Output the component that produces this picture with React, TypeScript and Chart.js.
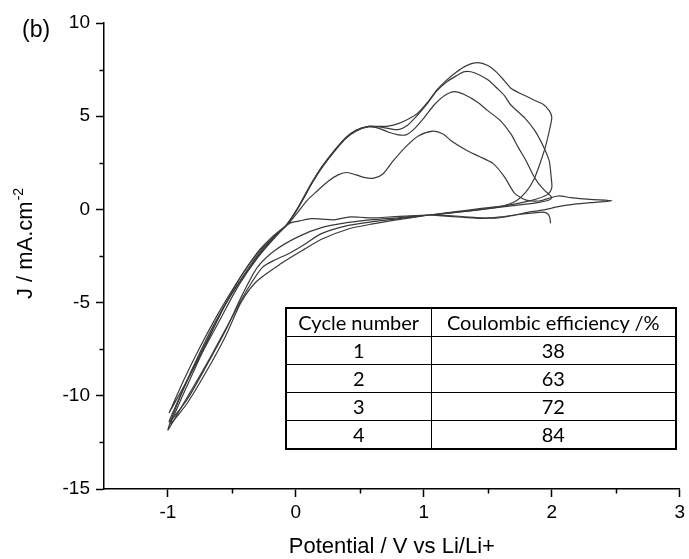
import React, { useEffect, useRef } from 'react';
import { Chart, registerables } from 'chart.js';

Chart.register(...registerables);

// ---- data ----
const cycleNumbers = [1, 2, 3, 4];
const coulombicEfficiency = [38, 63, 72, 84];
const tableHeaders = ['Cycle number', 'Coulombic efficiency /%'];

const xTitle = 'Potential / V vs Li/Li+';
const yTitleMain = 'J / mA.cm';
const yTitleSup = '-2';
const panelLabel = '(b)';

const xMajorTicks = [-1, 0, 1, 2, 3];
const xMinorTicks = [-0.5, 0.5, 1.5, 2.5];
const yMajorTicks = [10, 5, 0, -5, -10, -15];
const yMinorTicks = [7.5, 2.5, -2.5, -7.5, -12.5];

const cycle1Potential = [1.99, 1.985, 1.97, 1.93, 1.84, 1.71, 1.6, 1.45, 1.3, 1.15, 1.04, 0.85, 0.7, 0.6, 0.5, 0.41, 0.3, 0.2, 0.12, 0.03, -0.05, -0.15, -0.3, -0.45, -0.6, -0.75, -0.9, -0.99,
  -0.97, -0.88, -0.75, -0.6, -0.45, -0.3, -0.18, -0.07, 0.02, 0.09, 0.16, 0.25, 0.33, 0.4, 0.47, 0.54, 0.61, 0.68, 0.76, 0.86, 0.96, 1.07, 1.15, 1.21, 1.33, 1.43, 1.54, 1.63, 1.71, 1.8, 1.9, 1.97, 2.05, 2.15, 2.3, 2.47, 2.3, 2.15, 2.05, 2.0];
const cycle1Current = [-0.75, -0.45, -0.25, -0.15, -0.2, -0.3, -0.4, -0.48, -0.42, -0.35, -0.3, -0.36, -0.42, -0.46, -0.42, -0.41, -0.56, -0.52, -0.5, -0.62, -0.75, -1.4, -2.6, -4.1, -6.0, -7.9, -9.8, -10.9,
  -10.6, -9.2, -7.4, -5.5, -3.8, -2.3, -1.45, -0.85, -0.1, 0.5, 0.95, 1.5, 1.85, 1.98, 1.85, 1.7, 1.68, 1.9, 2.6, 3.37, 3.95, 4.2, 4.05, 3.7, 3.19, 2.85, 2.47, 1.75, 0.86, 0.5, 0.45, 0.58, 0.72, 0.63, 0.54, 0.47, 0.36, 0.26, 0.15, 0.07];

const cycle2Potential = [2.0, 1.94, 1.84, 1.7, 1.58, 1.45, 1.3, 1.15, 1.04, 0.8, 0.6, 0.41, 0.2, 0.02, -0.16, -0.3, -0.42, -0.55, -0.7, -0.85, -0.99,
  -0.93, -0.8, -0.65, -0.5, -0.37, -0.25, -0.15, -0.07, 0.0, 0.06, 0.125, 0.2, 0.3, 0.39, 0.47, 0.57, 0.65, 0.72, 0.8, 0.86, 0.93, 1.0, 1.08, 1.16, 1.24, 1.32, 1.42, 1.5, 1.6, 1.68, 1.74, 1.8, 1.85, 1.89, 1.94, 1.98, 2.0, 1.97, 1.9, 1.8, 1.6, 1.4, 1.2, 1.04];
const cycle2Current = [0.07, -0.03, -0.12, -0.32, -0.46, -0.46, -0.38, -0.32, -0.3, -0.45, -0.55, -0.7, -0.98, -1.46, -2.18, -3.1, -4.6, -6.5, -8.4, -10.2, -11.4,
  -10.4, -8.4, -6.3, -4.5, -3.2, -2.1, -1.35, -0.8, -0.12, 0.6, 1.4, 2.2, 3.1, 3.8, 4.2, 4.42, 4.35, 4.15, 4.0, 4.0, 4.35, 4.9, 5.6, 6.1, 6.32, 6.15, 5.75, 5.3, 4.75, 4.05, 3.3, 2.6, 1.9, 1.45, 1.05, 0.8, 0.62, 0.48, 0.38, 0.28, 0.12, -0.05, -0.2, -0.3];

const cycle3Potential = [1.04, 0.8, 0.6, 0.41, 0.2, 0.05, -0.05, -0.16, -0.26, -0.38, -0.5, -0.65, -0.8, -0.92, -1.0,
  -0.96, -0.85, -0.7, -0.55, -0.4, -0.27, -0.16, -0.07, 0.0, 0.06, 0.125, 0.2, 0.3, 0.39, 0.47, 0.57, 0.65, 0.72, 0.8, 0.87, 0.95, 1.03, 1.1, 1.18, 1.25, 1.32, 1.4, 1.5, 1.58, 1.63, 1.68, 1.79, 1.87, 1.94, 1.98, 1.995, 2.0, 1.97, 1.9, 1.8, 1.65, 1.45, 1.25, 1.04];
const cycle3Current = [-0.3, -0.5, -0.66, -0.86, -1.3, -1.95, -2.35, -2.7, -3.1, -4.3, -5.8, -7.7, -9.5, -10.9, -11.84,
  -11.0, -9.2, -7.1, -5.1, -3.45, -2.2, -1.4, -0.8, -0.1, 0.6, 1.4, 2.25, 3.15, 3.85, 4.25, 4.45, 4.42, 4.35, 4.28, 4.5, 5.05, 5.7, 6.35, 6.85, 7.15, 7.39, 7.32, 6.95, 6.45, 6.1, 5.6, 4.9, 4.2, 3.3, 2.6, 1.75, 1.15, 0.82, 0.6, 0.42, 0.22, 0.05, -0.12, -0.3];

const cycle4Potential = [1.04, 0.8, 0.6, 0.41, 0.2, 0.05, -0.11, -0.31, -0.43, -0.55, -0.7, -0.85, -0.98,
  -0.95, -0.84, -0.7, -0.56, -0.43, -0.3, -0.18, -0.07, 0.0, 0.06, 0.125, 0.2, 0.3, 0.39, 0.47, 0.57, 0.65, 0.72, 0.8, 0.88, 0.95, 1.03, 1.1, 1.18, 1.25, 1.33, 1.42, 1.5, 1.57, 1.63, 1.68, 1.76, 1.86, 1.93, 1.98, 2.0, 1.98, 1.95, 1.91, 1.86, 1.8, 1.72, 1.6, 1.45, 1.3, 1.15];
const cycle4Current = [-0.3, -0.55, -0.78, -1.05, -1.6, -2.2, -2.88, -3.88, -5.0, -6.8, -8.7, -10.4, -11.5,
  -11.0, -9.3, -7.2, -5.2, -3.6, -2.35, -1.45, -0.8, -0.08, 0.65, 1.45, 2.25, 3.15, 3.85, 4.25, 4.46, 4.45, 4.47, 4.6, 4.85, 5.15, 5.75, 6.4, 6.95, 7.35, 7.7, 7.87, 7.72, 7.35, 6.9, 6.5, 6.2, 5.87, 5.65, 5.3, 4.95, 4.2, 3.35, 2.5, 1.6, 0.95, 0.45, 0.15, 0.0, -0.12, -0.22];

const cyclePotentials = [cycle1Potential, cycle2Potential, cycle3Potential, cycle4Potential];
const cycleCurrents = [cycle1Current, cycle2Current, cycle3Current, cycle4Current];

const W = 689;
const H = 559;
const AXIS_FONT = 'Liberation Sans, Arial, sans-serif';

const decorPlugin = {
  id: 'decor',
  afterDraw(chart: any) {
    const { ctx, chartArea, scales } = chart;
    const x = scales.x;
    const y = scales.y;
    ctx.save();
    ctx.strokeStyle = '#000';
    ctx.lineWidth = 1.5;
    ctx.beginPath();
    for (const v of xMinorTicks) {
      const px = Math.round(x.getPixelForValue(v)) + 0.5;
      ctx.moveTo(px, chartArea.bottom);
      ctx.lineTo(px, chartArea.bottom + 4.5);
    }
    for (const v of yMinorTicks) {
      const py = Math.round(y.getPixelForValue(v)) + 0.5;
      ctx.moveTo(chartArea.left, py);
      ctx.lineTo(chartArea.left - 4.5, py);
    }
    ctx.stroke();

    ctx.fillStyle = '#000';
    // x title
    ctx.font = `22px ${AXIS_FONT}`;
    ctx.textAlign = 'center';
    ctx.textBaseline = 'alphabetic';
    ctx.fillText(xTitle, (chartArea.left + chartArea.right) / 2, 553);

    // y title with superscript
    ctx.save();
    ctx.translate(32, 244);
    ctx.rotate(-Math.PI / 2);
    ctx.font = `22px ${AXIS_FONT}`;
    const wMain = ctx.measureText(yTitleMain).width;
    ctx.font = `14px ${AXIS_FONT}`;
    const wSup = ctx.measureText(yTitleSup).width;
    const start = -(wMain + wSup) / 2;
    ctx.textAlign = 'left';
    ctx.font = `22px ${AXIS_FONT}`;
    ctx.fillText(yTitleMain, start, 0);
    ctx.font = `14px ${AXIS_FONT}`;
    ctx.fillText(yTitleSup, start + wMain + 1, -9);
    ctx.restore();

    // panel label
    ctx.font = `23px ${AXIS_FONT}`;
    ctx.textAlign = 'left';
    ctx.fillText(panelLabel, 22, 37);
    ctx.restore();
  },
};

export default function App() {
  const canvasRef = useRef<HTMLCanvasElement | null>(null);

  useEffect(() => {
    if (!canvasRef.current) return;
    const datasets = cyclePotentials.map((pots, i) => ({
      label: `Cycle ${cycleNumbers[i]}`,
      data: pots.map((v, j) => ({ x: v, y: cycleCurrents[i][j] })),
      showLine: true,
      borderColor: '#3a3a3a',
      borderWidth: 1.2,
      pointRadius: 0,
      tension: 0.25,
      fill: false,
    }));
    const chart = new Chart(canvasRef.current, {
      type: 'scatter',
      data: { datasets },
      options: {
        animation: false,
        responsive: false,
        devicePixelRatio: 1,
        layout: { padding: { left: 0, top: 23, right: 7, bottom: 0 } },
        plugins: { legend: { display: false }, tooltip: { enabled: false } },
        scales: {
          x: {
            type: 'linear',
            min: -1.5,
            max: 3,
            afterFit: (s: any) => { s.height = 70; },
            afterBuildTicks: (s: any) => {
              s.ticks = [-1.5, ...xMajorTicks].map((v) => ({ value: v }));
            },
            ticks: {
              autoSkip: false,
              maxRotation: 0,
              padding: 4,
              color: '#000',
              font: { family: AXIS_FONT, size: 19 },
              callback: (v: any) => (xMajorTicks.includes(Number(v)) ? String(v) : ''),
            },
            grid: {
              drawOnChartArea: false,
              tickLength: 8,
              tickWidth: 1.5,
              tickColor: (c: any) => (xMajorTicks.includes(c.tick?.value) ? '#000' : 'rgba(0,0,0,0)'),
            },
            border: { display: true, color: '#000', width: 1.5 },
          },
          y: {
            type: 'linear',
            min: -15,
            max: 10,
            afterFit: (s: any) => { s.width = 104; },
            afterBuildTicks: (s: any) => {
              s.ticks = yMajorTicks.slice().reverse().map((v) => ({ value: v }));
            },
            ticks: {
              autoSkip: false,
              padding: 6,
              color: '#000',
              font: { family: AXIS_FONT, size: 19 },
              callback: (v: any) => String(v),
            },
            grid: {
              drawOnChartArea: false,
              tickLength: 8,
              tickWidth: 1.5,
              tickColor: '#000',
            },
            border: { display: true, color: '#000', width: 1.5 },
          },
        },
      },
      plugins: [decorPlugin],
    });
    return () => chart.destroy();
  }, []);

  const cellBase: React.CSSProperties = {
    border: '1.5px solid #000',
    padding: 0,
    textAlign: 'center',
    height: 27,
    lineHeight: '27px',
  };

  return (
    <div style={{ position: 'fixed', left: 0, top: 0, width: W, height: H, background: '#fff' }}>
      <canvas ref={canvasRef} width={W} height={H} style={{ position: 'absolute', left: 0, top: 0, width: W, height: H }} />
      <div style={{ position: 'absolute', left: 285, top: 307, width: 390, height: 141 }}>
        <table
          style={{
            borderCollapse: 'collapse',
            width: '100%',
            tableLayout: 'fixed',
            fontFamily: 'Lato, "Open Sans", sans-serif',
            fontSize: 20,
            color: '#000',
            border: '2px solid #000',
          }}
        >
          <colgroup>
            <col style={{ width: 145 }} />
            <col style={{ width: 245 }} />
          </colgroup>
          <tbody>
            <tr>
              <td style={cellBase}>{tableHeaders[0]}</td>
              <td style={cellBase}>{tableHeaders[1]}</td>
            </tr>
            {cycleNumbers.map((n, i) => (
              <tr key={n}>
                <td style={cellBase}>{n}</td>
                <td style={cellBase}>{coulombicEfficiency[i]}</td>
              </tr>
            ))}
          </tbody>
        </table>
      </div>
    </div>
  );
}
